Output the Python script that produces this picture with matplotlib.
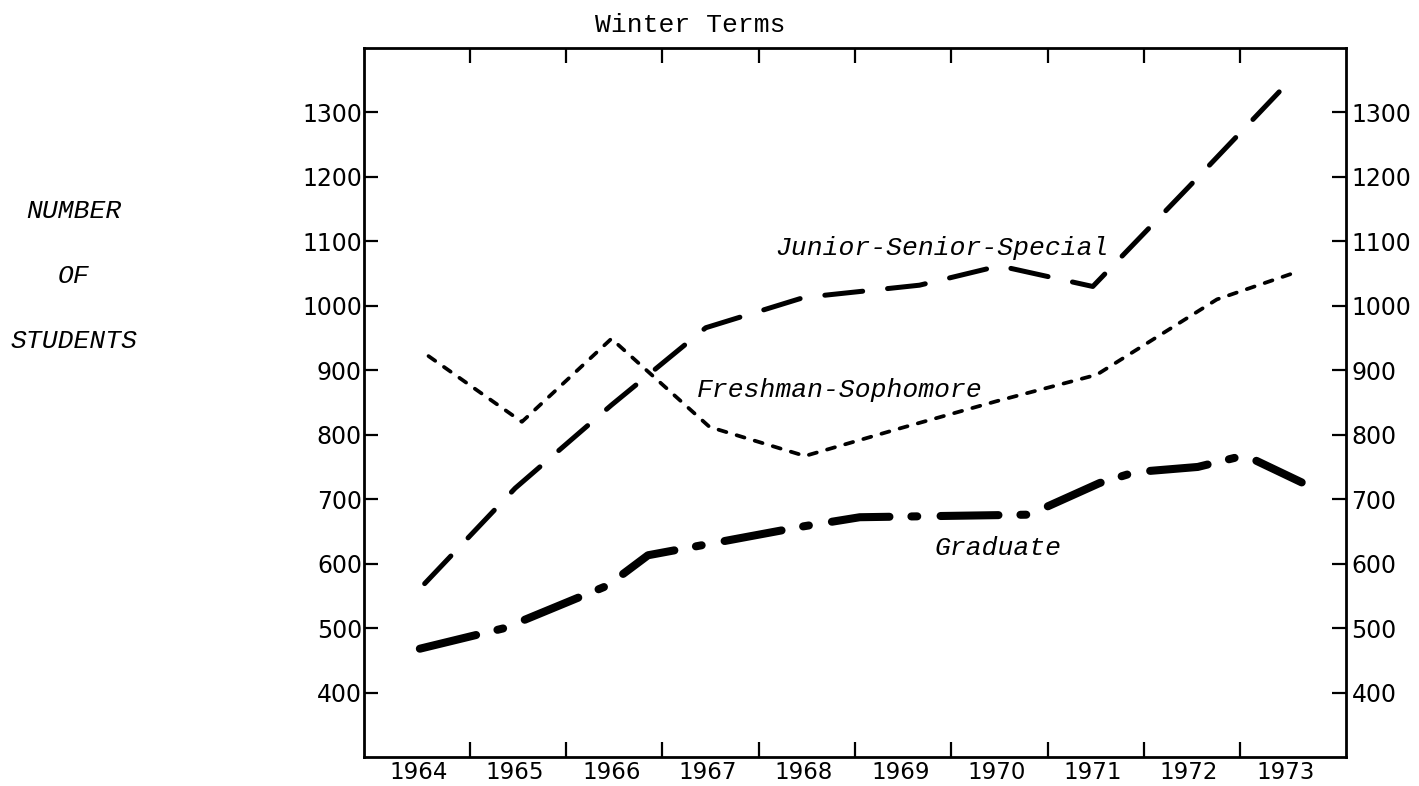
import matplotlib
matplotlib.use("Agg")
import matplotlib.pyplot as plt

plt.rcParams['lines.scale_dashes'] = False

# ---------------- data ----------------
years = [1964, 1965, 1966, 1967, 1968, 1969, 1970, 1971, 1972, 1973]
year_labels = [str(y) for y in years]
y_ticks = [400, 500, 600, 700, 800, 900, 1000, 1100, 1200, 1300]

# Freshman-Sophomore (short dashes)
fresh_x = [1964.10, 1965.07, 1966.00, 1967.02, 1968.01, 1969.00, 1970.00, 1971.04, 1972.29, 1973.07]
fresh_y = [922, 820, 949, 812, 767, 810, 852, 893, 1010, 1050]

# Junior-Senior-Special (long dashes)
junior_x = [1964.06, 1965.00, 1966.00, 1966.98, 1968.00, 1969.20, 1970.03, 1971.00, 1972.00, 1973.00]
junior_y = [569, 717, 846, 966, 1013, 1032, 1062, 1030, 1185, 1342]

# Graduate (heavy dash-dot)
grad_x = [1964.01, 1964.89, 1965.96, 1966.38, 1968.00, 1968.58, 1970.34, 1971.07, 1971.44, 1972.09, 1972.58, 1973.17]
grad_y = [468, 500, 566, 613, 658, 672, 676, 725, 742, 750, 768, 726]

title = "Winter Terms"
series_labels = ["Junior-Senior-Special", "Freshman-Sophomore", "Graduate"]
ylabel_lines = ["NUMBER", "OF", "STUDENTS"]

# ---------------- figure ----------------
W, H = 1419, 786
fig = plt.figure(figsize=(W / 100, H / 100), dpi=100)
fig.patch.set_facecolor("white")
ax = fig.add_axes([364 / W, 1 - 757 / H, (1346 - 364) / W, (757 - 48) / H])

mono = "Liberation Mono"
tickfont = "DejaVu Sans"

ax.plot(fresh_x, fresh_y, color="black", lw=2.7, linestyle=(0, (5.9, 7.7)),
        dash_capstyle="round", solid_joinstyle="round")
ax.plot(junior_x, junior_y, color="black", lw=3.6, linestyle=(0, (27.4, 18.0)),
        dash_capstyle="round", solid_joinstyle="round")
ax.plot(grad_x, grad_y, color="black", lw=5.8, linestyle=(0, (41.7, 15.8, 4.2, 16.8)),
        dash_capstyle="round", solid_joinstyle="round")

ax.set_xlim(1963.43, 1973.63)
ax.set_ylim(300, 1400)

for s in ax.spines.values():
    s.set_linewidth(2.0)
    s.set_color("black")

# x axis: labels at year centres, ticks between years
ax.set_xticks(years)
ax.set_xticklabels(year_labels, fontfamily=tickfont, fontsize=16.5)
ax.tick_params(axis="x", which="major", length=0, pad=3)
ax.set_xticks([y + 0.53 for y in years[:-1]], minor=True)
ax.tick_params(axis="x", which="minor", direction="in", length=11, width=1.6,
               top=True, bottom=True)

# y axis left
ax.set_yticks(y_ticks)
ax.set_yticklabels([str(v) for v in y_ticks], fontfamily=tickfont, fontsize=17)
ax.tick_params(axis="y", which="major", direction="in", length=10, width=1.6,
               left=True, right=False, pad=1.5)

# y axis right
ax2 = ax.twinx()
ax2.set_ylim(ax.get_ylim())
ax2.set_yticks(y_ticks)
ax2.set_yticklabels([str(v) for v in y_ticks], fontfamily=tickfont, fontsize=17)
ax2.tick_params(axis="y", direction="in", length=10, width=1.6, pad=4)
for s in ax2.spines.values():
    s.set_visible(False)

# series labels
ax.text(1967.70, 1079, series_labels[0], fontfamily=mono, fontstyle="italic",
        fontsize=19, ha="left", va="baseline")
ax.text(1966.89, 858, series_labels[1], fontfamily=mono, fontstyle="italic",
        fontsize=19, ha="left", va="baseline")
ax.text(1969.36, 613, series_labels[2], fontfamily=mono, fontstyle="italic",
        fontsize=19, ha="left", va="baseline")

# title and side label
fig.text(690 / W, 1 - 32 / H, title, fontfamily=mono, fontsize=19,
         ha="center", va="baseline")
for txt, yb in zip(ylabel_lines, [218, 283, 348]):
    fig.text(74 / W, 1 - yb / H, txt, fontfamily=mono, fontstyle="italic",
             fontsize=19, ha="center", va="baseline")

fig.savefig("out.png", dpi=100, facecolor="white")
